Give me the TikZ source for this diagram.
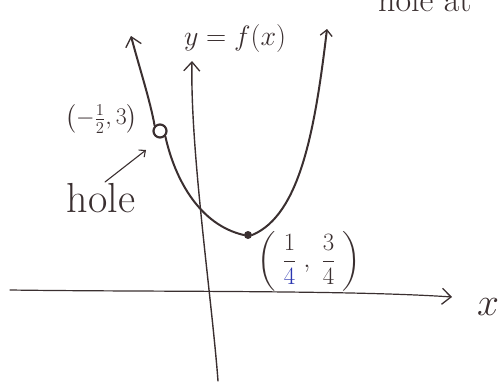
\documentclass[tikz,border=0pt]{standalone}
\usepackage{amsmath}
\usetikzlibrary{arrows.meta}
\definecolor{ink}{HTML}{3A2F30}
\definecolor{blueink}{HTML}{2A35B0}
\tikzset{
  barb/.tip={Straight Barb[length=9pt,width=16pt,line width=1.3pt]},
  smallbarb/.tip={Straight Barb[length=6pt,width=12pt,line width=1.3pt]},
  tinybarb/.tip={Straight Barb[length=5pt,width=9pt,line width=1.1pt]},
}
\begin{document}
\begin{tikzpicture}[x=1pt,y=-1pt,
  pen/.style={draw=ink,line cap=round,line join=round},
  lab/.style={text=ink,inner sep=0pt},
  ]
\useasboundingbox (0,0) rectangle (504,381);
\clip (0,0) rectangle (504,381);
% nodes on the curve
\node[circle,draw=ink,line width=2.2pt,minimum size=13pt,inner sep=0pt] (hole) at (160,131) {};
\node[circle,fill=ink,minimum size=8pt,inner sep=0pt] (vertex) at (248,235) {};
% axes
\coordinate (xs) at (10,290);
\coordinate (xe) at (452,297);
\coordinate (ys) at (218,381);
\coordinate (ye) at (192,61);
\draw[pen,line width=1.2pt,-{barb}] (xs) .. controls (150,292) and (350,290) .. (xe);
\draw[pen,line width=1.4pt,-{barb}] (ys) .. controls (212,300) and (190,150) .. (ye);
% parabola
\coordinate (ltip) at (131,36);
\coordinate (rtip) at (327,29);
\draw[pen,line width=2pt,{barb}-] (ltip) .. controls (140,70) and (150,100) .. (hole.north west);
\draw[pen,line width=2pt] (hole.south east) .. controls (175,180) and (200,225) .. (vertex.west);
\draw[pen,line width=2pt,-{smallbarb}] (vertex.east) .. controls (300,215) and (315,130) .. (rtip);
% labels
\node[lab,font=\huge,scale=1.35] (yf) at (235,38) {$y=f(x)$};
\node[lab,font=\huge,scale=1.15,anchor=east] (hp) at (138,119) {$\left(-\tfrac{1}{2},3\right)$};
\node[lab,font=\fontsize{42}{46}\selectfont] (holetxt) at (101,198) {hole};
\node[lab,font=\huge,scale=1.2] (vp) at (309,261) {$\left(\;\dfrac{1}{\textcolor{blueink}{4}}\;,\;\dfrac{3}{4}\;\right)$};
\node[lab,font=\huge,scale=1.9] (xl) at (488,307) {$x$};
\node[lab,font=\fontsize{34}{38}\selectfont,anchor=base west] (holeat) at (378,11) {hole at};
% arrow to hole
\coordinate (hs) at (105,182);
\coordinate (he) at (146,150);
\draw[pen,line width=1.1pt,-{tinybarb}] (hs) -- (he);
\end{tikzpicture}
\end{document}
